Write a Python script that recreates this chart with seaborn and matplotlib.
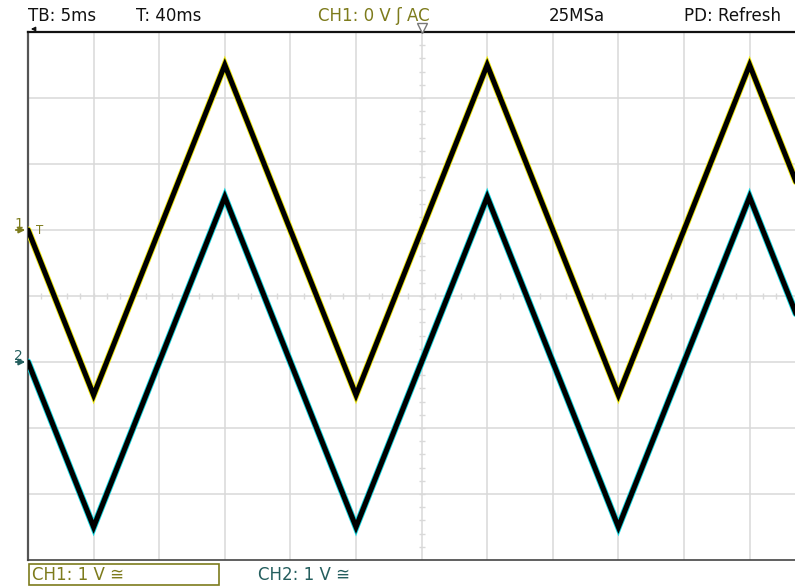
import numpy as np
import pandas as pd
import matplotlib
matplotlib.use("Agg")
import matplotlib.pyplot as plt
import matplotlib.patheffects as pe
from matplotlib.patches import Rectangle
import seaborn as sns

# Triangle-wave vertices (time in ms, amplitude in V)
time_ms = [0, 5, 15, 25, 35, 45, 55, 60]
ch1_volts = [0.0, -2.5, 2.5, -2.5, 2.5, -2.5, 2.5, 0.0]
ch2_volts = [0.0, -2.5, 2.5, -2.5, 2.5, -2.5, 2.5, 0.0]

# Channel ground offsets in divisions (1 V/div)
ch1_offset = 1.0
ch2_offset = -1.0

header_labels = ["TB: 5ms", "T: 40ms", "CH1: 0 V \u0283 AC", "25MSa", "PD: Refresh"]
footer_labels = ["CH1: 1 V \u2245", "CH2: 1 V \u2245"]

W, H = 795, 588
ch1_col = "#7d7b1c"
ch2_col = "#245e5e"
grid_col = "#d9d9d9"

sns.set_theme(style="white")
plt.rcParams["font.family"] = ["DejaVu Sans"]

fig = plt.figure(figsize=(W / 100, H / 100), dpi=100)
fig.patch.set_facecolor("white")

# Graticule: 12 x 8 divisions, left edge at x=28px, top at y=32px, 65.6 px/div horizontally
left_px, top_px, bottom_px = 28, 32, 560
div_w = 65.6
ax = fig.add_axes([left_px / W, 1 - bottom_px / H, 12 * div_w / W, (bottom_px - top_px) / H])
ax.set_xlim(0, 60)
ax.set_ylim(-4, 4)
ax.set_facecolor("white")

for x in np.arange(5, 60, 5):
    ax.axvline(x, color=grid_col, lw=1.1, zorder=0)
for y in np.arange(-3, 4, 1):
    ax.axhline(y, color=grid_col, lw=1.1, zorder=0)

# Minor ticks on the centre cross
xt = np.arange(1, 60, 1)
ax.plot(xt, np.zeros_like(xt, dtype=float), ls="none", marker="|", ms=5, mew=1.0, color=grid_col, zorder=0)
yt = np.arange(-3.8, 4, 0.2)
ax.plot(np.full_like(yt, 30.0), yt, ls="none", marker="_", ms=5, mew=1.0, color=grid_col, zorder=0)

df = pd.DataFrame({
    "t": time_ms * 2,
    "v": [v + ch1_offset for v in ch1_volts] + [v + ch2_offset for v in ch2_volts],
    "ch": ["CH1"] * len(time_ms) + ["CH2"] * len(time_ms),
})

for ch, glow in [("CH2", "#16d8e0"), ("CH1", "#f0ea10")]:
    sub = df[df["ch"] == ch]
    n_before = len(ax.lines)
    sns.lineplot(data=sub, x="t", y="v", ax=ax, color="black", lw=3.7,
                 estimator=None, sort=False, legend=False)
    line = ax.lines[n_before]
    line.set_solid_joinstyle("miter")
    line.set_path_effects([pe.Stroke(linewidth=5.0, foreground=glow, joinstyle="miter"), pe.Normal()])
    line.set_zorder(3)

ax.set_xlabel("")
ax.set_ylabel("")
ax.set_xticks([])
ax.set_yticks([])
ax.spines["right"].set_visible(False)
ax.spines["left"].set_color("#555555")
ax.spines["left"].set_linewidth(1.6)
ax.spines["top"].set_color("#111111")
ax.spines["top"].set_linewidth(1.6)
ax.spines["bottom"].set_color("#444444")
ax.spines["bottom"].set_linewidth(1.2)

# Trigger position marker at the top
ax.plot([30], [4 + 4 / 66], marker="v", ms=6.5, mfc="white", mec="#777777", mew=1.0,
        clip_on=False, zorder=5)

def fx(px):
    return px / W

def fy(py):
    return 1 - py / H

fs = 12
# Header line
fig.text(fx(28), fy(16), header_labels[0], color="#111111", fontsize=fs, va="center", ha="left")
fig.text(fx(136), fy(16), header_labels[1], color="#111111", fontsize=fs, va="center", ha="left")
fig.text(fx(318), fy(16), header_labels[2], color=ch1_col, fontsize=fs, va="center", ha="left")
fig.text(fx(549), fy(16), header_labels[3], color="#111111", fontsize=fs, va="center", ha="left")
fig.text(fx(684), fy(16), header_labels[4], color="#111111", fontsize=fs, va="center", ha="left")

# Time reference pointer above the left edge
ax.annotate("", xy=(fx(28), fy(29)), xytext=(fx(37), fy(29)), xycoords="figure fraction",
            arrowprops=dict(arrowstyle="-|>", color="#111111", lw=1.0, mutation_scale=6))

# Channel ground markers on the left edge
fig.text(fx(14), fy(224), "1", color=ch1_col, fontsize=10, va="center", ha="left")
fig.text(fx(36), fy(231), "T", color=ch1_col, fontsize=8.5, va="center", ha="left")
ax.annotate("", xy=(left_px / W, fy(230)), xytext=(fx(13), fy(230)), xycoords="figure fraction",
            arrowprops=dict(arrowstyle="-|>", color=ch1_col, lw=1.3, mutation_scale=9))
fig.text(fx(14), fy(356), "2", color=ch2_col, fontsize=10, va="center", ha="left")
ax.annotate("", xy=(left_px / W, fy(362)), xytext=(fx(13), fy(362)), xycoords="figure fraction",
            arrowprops=dict(arrowstyle="-|>", color=ch2_col, lw=1.3, mutation_scale=9))

# Footer: channel settings
fig.patches.append(Rectangle((fx(29), fy(585)), (219 - 29) / W, (585 - 564) / H,
                             transform=fig.transFigure, fill=False, ec=ch1_col, lw=1.2))
fig.text(fx(32), fy(575), footer_labels[0], color=ch1_col, fontsize=fs, va="center", ha="left")
fig.text(fx(258), fy(575), footer_labels[1], color=ch2_col, fontsize=fs, va="center", ha="left")

fig.savefig("out.png", dpi=100)
